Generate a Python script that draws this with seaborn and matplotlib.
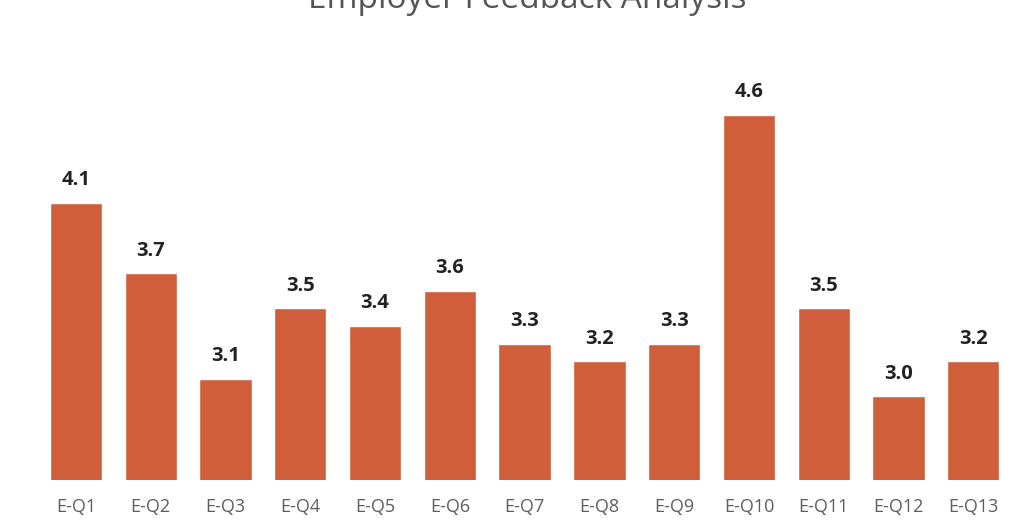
import matplotlib
matplotlib.use("Agg")
import matplotlib.pyplot as plt
import seaborn as sns
import pandas as pd

categories = ["E-Q1", "E-Q2", "E-Q3", "E-Q4", "E-Q5", "E-Q6", "E-Q7",
              "E-Q8", "E-Q9", "E-Q10", "E-Q11", "E-Q12", "E-Q13"]
scores = [4.1, 3.7, 3.1, 3.5, 3.4, 3.6, 3.3, 3.2, 3.3, 4.6, 3.5, 3.0, 3.2]
title = "Employer Feedback Analysis"

df = pd.DataFrame({"question": categories, "score": scores})

sns.set_style("white")
plt.rcParams['font.family'] = ['Open Sans', 'DejaVu Sans']

fig = plt.figure(figsize=(10.24, 5.27), dpi=100)
ax = fig.add_axes([0.0377, 0.0892, 0.9493, 0.816])

sns.barplot(data=df, x="question", y="score", color="#D05E3A", saturation=1,
            width=0.7, ax=ax)

ax.set_ylim(2.525, 2.525 + 430 / 176)
ax.set_xlim(-0.5, len(categories) - 0.5)
for spine in ax.spines.values():
    spine.set_visible(False)
ax.set_yticks([])
ax.set_xlabel("")
ax.set_ylabel("")
ax.tick_params(axis="x", length=0, pad=13, labelsize=13, labelcolor="#5e5e5e")

for container in ax.containers:
    ax.bar_label(container, labels=[f"{v:.1f}" for v in scores], padding=9,
                 fontsize=14.5, fontweight="bold", color="#222222")

fig.text(0.515, 1 - 8 / 527, title, ha="center", va="baseline",
         fontsize=24, color="#555555")

fig.savefig("out.png", dpi=100)
